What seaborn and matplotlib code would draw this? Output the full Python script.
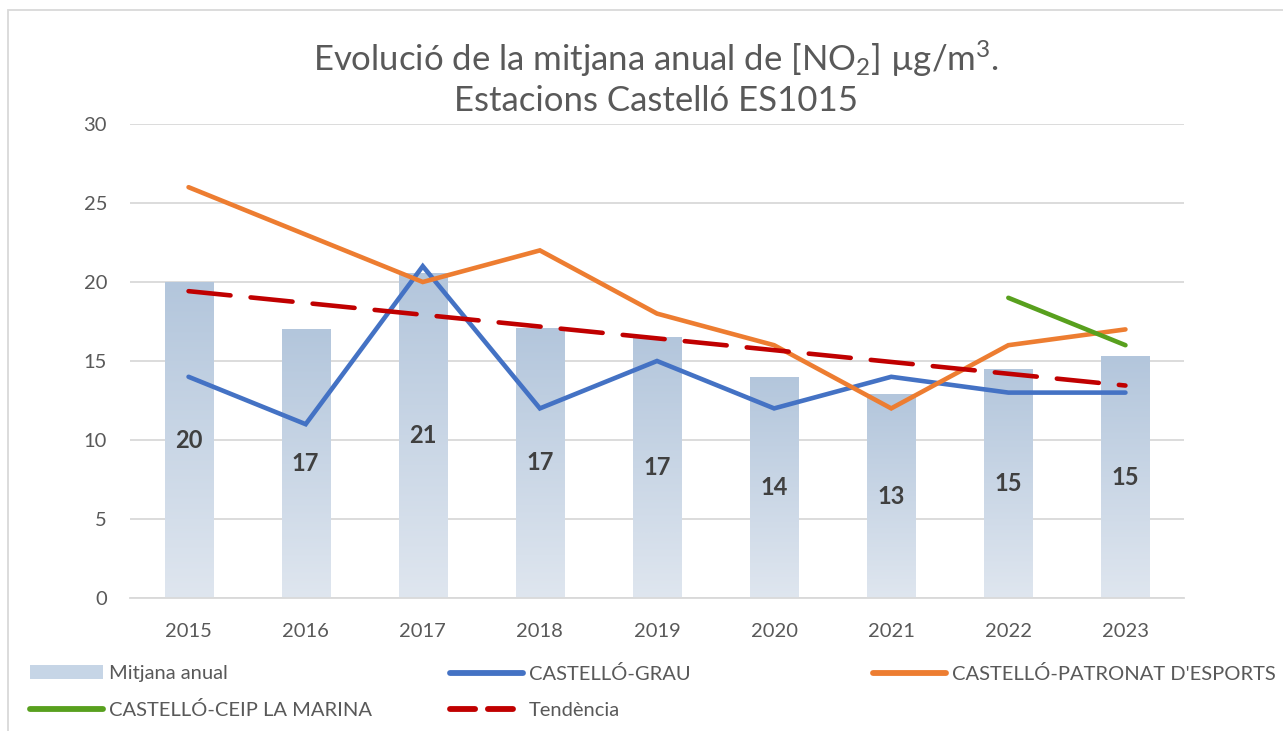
import numpy as np
import pandas as pd
import matplotlib
matplotlib.use("Agg")
import matplotlib.pyplot as plt
import seaborn as sns
from matplotlib.patches import Patch, Rectangle
from matplotlib.lines import Line2D
from matplotlib.colors import LinearSegmentedColormap

# ---- data ----
years = ["2015", "2016", "2017", "2018", "2019", "2020", "2021", "2022", "2023"]
mitjana = [20.0, 17.0, 20.6, 17.1, 16.5, 14.0, 12.9, 14.5, 15.3]
grau = [14, 11, 21, 12, 15, 12, 14, 13, 13]
patronat = [26, 23, 20, 22, 18, 16, 12, 16, 17]
ceip_years = ["2022", "2023"]
ceip = [19, 16]
yticks = [0, 5, 10, 15, 20, 25, 30]

FONT = "Lato"
sns.set_theme(style="white")
plt.rcParams["font.family"] = [FONT, "DejaVu Sans"]
plt.rcParams["mathtext.fontset"] = "custom"
plt.rcParams["mathtext.rm"] = FONT
plt.rcParams["mathtext.it"] = FONT

TXT = "#595959"
fig = plt.figure(figsize=(12.83, 7.31), dpi=100)
ax = fig.add_axes([130 / 1283, 1 - 598 / 731, (1184 - 130) / 1283, (598 - 124) / 731])

df = pd.DataFrame({"year": years, "val": mitjana})
sns.barplot(data=df, x="year", y="val", ax=ax, color="#b4c7dc", width=0.41,
            saturation=1, zorder=1)

# gradient fill for bars
cmap = LinearSegmentedColormap.from_list("g", ["#dfe6ef", "#b3c6dc"])
grad = np.linspace(0, 1, 256).reshape(-1, 1)
for p in list(ax.patches):
    x0, y0 = p.get_x(), p.get_y()
    w, h = p.get_width(), p.get_height()
    im = ax.imshow(grad, extent=[x0, x0 + w, y0, y0 + h], origin="lower",
                   cmap=cmap, aspect="auto", zorder=1, interpolation="bicubic")
    im.set_clip_path(p)
    p.set_facecolor("none")
    p.set_edgecolor("none")

pos = np.arange(len(years))
ceip_pos = np.array([years.index(y) for y in ceip_years])

sns.lineplot(x=pos, y=grau, ax=ax, color="#4472c4", lw=3.3, zorder=3,
             solid_capstyle="round", solid_joinstyle="miter")
sns.lineplot(x=pos, y=patronat, ax=ax, color="#ed7d31", lw=3.3, zorder=3,
             solid_capstyle="round", solid_joinstyle="miter")
sns.lineplot(x=ceip_pos, y=ceip, ax=ax, color="#58a01e", lw=3.3, zorder=3,
             solid_capstyle="round")

# linear trend of the annual mean (as Excel trendline)
coef = np.polyfit(pos, mitjana, 1)
trend = np.polyval(coef, pos)
ax.plot(pos, trend, color="#c00000", lw=3.3, zorder=4, dashes=(9.2, 4.4),
        dash_capstyle="round")

# data labels
for i, v in enumerate(mitjana):
    ax.text(i, v / 2, f"{int(np.floor(v + 0.5))}", ha="center", va="center",
            fontsize=17, fontweight="bold", color="#404040", zorder=5)

ax.set_xlim(-0.5, len(years) - 0.5)
ax.set_ylim(0, 30)
ax.set_yticks(yticks)
ax.set_yticklabels([str(t) for t in yticks])
ax.set_xlabel("")
ax.set_ylabel("")
ax.grid(axis="y", color="#d9d9d9", lw=1.3, zorder=0)
ax.set_axisbelow(True)
for s in ["top", "right", "left"]:
    ax.spines[s].set_visible(False)
ax.spines["bottom"].set_color("#d9d9d9")
ax.spines["bottom"].set_linewidth(1.3)
ax.tick_params(axis="both", length=0, labelsize=14.5, labelcolor=TXT)
ax.tick_params(axis="y", pad=16.5)
ax.tick_params(axis="x", pad=18)

# title
fig.text(656 / 1283, 1 - 59 / 731, "Evolució de la mitjana anual de [NO$_2$] µg/m$^3$.",
         ha="center", va="center", fontsize=25, color=TXT)
fig.text(656 / 1283, 1 - 101 / 731, "Estacions Castelló ES1015",
         ha="center", va="center", fontsize=25, color=TXT)

# figure border (chart area frame)
fig.patches.append(Rectangle((8 / 1283, -0.1), 1.2, 1 - 10 / 731 + 0.1,
                             transform=fig.transFigure, fill=False,
                             edgecolor="#d9d9d9", lw=1.3))

# legends
lkw = dict(frameon=False, fontsize=14.5, handlelength=3.6, handletextpad=0.3,
           labelspacing=0.95, borderpad=0, borderaxespad=0, labelcolor=TXT,
           loc="upper left")
h_bar = Patch(facecolor="#c6d5e6", edgecolor="none")
h_grau = Line2D([], [], color="#4472c4", lw=4.2, solid_capstyle="round")
h_pat = Line2D([], [], color="#ed7d31", lw=4.2, solid_capstyle="round")
h_ceip = Line2D([], [], color="#58a01e", lw=4.2, solid_capstyle="round")
h_tr = Line2D([], [], color="#c00000", lw=4.2, dashes=(4.3, 2.2), dash_capstyle="round")
top = 1 - 665 / 731
fig.legend([h_bar, h_ceip], ["Mitjana anual", "CASTELLÓ-CEIP LA MARINA"],
           bbox_to_anchor=(30 / 1283, top), **lkw)
fig.legend([h_grau, h_tr], ["CASTELLÓ-GRAU", "Tendència"],
           bbox_to_anchor=(450 / 1283, top), **lkw)
fig.legend([h_pat], ["CASTELLÓ-PATRONAT D'ESPORTS"],
           bbox_to_anchor=(873 / 1283, top), **lkw)

fig.savefig("out.png", dpi=100)
